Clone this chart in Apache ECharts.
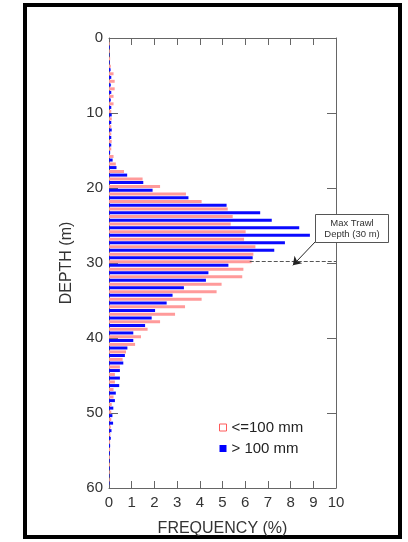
<!DOCTYPE html>
<html>
<head>
<meta charset="utf-8">
<script src="https://cdn.jsdelivr.net/npm/echarts@6/dist/echarts.min.js"></script>
<style>
  html, body { margin: 0; padding: 0; background: #fff; }
  #chart { width: 408px; height: 542px; }
</style>
</head>
<body>
<div id="chart"></div>
<script>
// depth bins (m), one bar pair per metre
const depths = [
  0, 1, 2, 3, 4, 5, 6, 7, 8, 9,
  10, 11, 12, 13, 14, 15, 16, 17, 18, 19,
  20, 21, 22, 23, 24, 25, 26, 27, 28, 29,
  30, 31, 32, 33, 34, 35, 36, 37, 38, 39,
  40, 41, 42, 43, 44, 45, 46, 47, 48, 49,
  50, 51, 52, 53, 54, 55, 56, 57, 58, 59,
  60
]
// frequency (%) of fish <= 100 mm
const smallFish = [
  0, 0.03, 0.03, 0.05, 0.08, 0.2, 0.25, 0.25, 0.2, 0.2,
  0.1, 0.12, 0.1, 0.1, 0.12, 0.1, 0.2, 0.3, 0.66, 1.48,
  2.25, 3.39, 4.08, 5.23, 5.45, 5.36, 6.02, 5.95, 6.45, 6.36,
  6.28, 5.92, 5.87, 4.96, 4.74, 4.08, 3.35, 2.91, 2.25, 1.7,
  1.41, 1.15, 0.75, 0.6, 0.48, 0.26, 0.26, 0.2, 0.2, 0.12,
  0.1, 0.1, 0.08, 0.06, 0.05, 0.05, 0.04, 0.04, 0.03, 0.03,
  0
]
// frequency (%) of fish > 100 mm
const largeFish = [
  0, 0.03, 0.02, 0.03, 0.07, 0.1, 0.08, 0.1, 0.08, 0.1,
  0.12, 0.1, 0.12, 0.1, 0.1, 0.05, 0.16, 0.33, 0.8, 1.51,
  1.92, 3.5, 5.18, 6.66, 7.17, 8.38, 8.85, 7.75, 7.28, 6.33,
  5.26, 4.38, 4.27, 3.3, 2.8, 2.54, 2.03, 1.88, 1.59, 1.07,
  1.07, 0.81, 0.7, 0.63, 0.48, 0.48, 0.45, 0.3, 0.26, 0.19,
  0.15, 0.18, 0.11, 0.08, 0.05, 0.04, 0.03, 0.03, 0.02, 0.02,
  0
]
const seriesNames = ['<=100 mm', '> 100 mm']
const trawlDepth = 30

const font = 'Liberation Sans, Arial, sans-serif'
const plotTop = 38
const plotHeight = 451
const perMetre = plotHeight / 60

const chart = echarts.init(document.getElementById('chart'))

const frameAxis = {
  axisLine: { show: true, onZero: false, lineStyle: { color: '#666', width: 1 } },
  splitLine: { show: false },
  axisTick: { inside: true, lineStyle: { color: '#666' } }
}

const option = {
  animation: false,
  textStyle: { fontFamily: font },
  grid: [
    // visible frame, 0..60 m
    { left: 109, width: 227, top: plotTop, height: plotHeight },
    // bar grid, shifted half a bin so bars sit on whole metres
    { left: 109, width: 227, top: plotTop - perMetre / 2, height: perMetre * 61 }
  ],
  legend: {
    orient: 'vertical',
    left: 214,
    top: 415,
    icon: 'rect',
    itemWidth: 7,
    itemHeight: 7,
    itemGap: 6,
    textStyle: { fontSize: 15, color: '#222' },
    data: [
      { name: seriesNames[0], itemStyle: { color: '#fff', borderColor: '#ff5a5a', borderWidth: 1 } },
      { name: seriesNames[1], itemStyle: { color: '#0000ff' } }
    ]
  },
  xAxis: [
    Object.assign({}, frameAxis, {
      gridIndex: 0,
      type: 'value',
      position: 'bottom',
      min: 0,
      max: 10,
      interval: 1,
      axisTick: { inside: true, length: 7, lineStyle: { color: '#666' } },
      axisLabel: { fontSize: 15, color: '#333', margin: 7 },
      name: 'FREQUENCY (%)',
      nameLocation: 'middle',
      nameGap: 33,
      nameTextStyle: { fontSize: 16, color: '#333' }
    }),
    Object.assign({}, frameAxis, {
      gridIndex: 0,
      type: 'value',
      position: 'top',
      min: 0,
      max: 10,
      interval: 1,
      axisTick: { inside: true, length: 7, lineStyle: { color: '#666' } },
      axisLabel: { show: false }
    }),
    { gridIndex: 1, type: 'value', min: 0, max: 10, show: false }
  ],
  yAxis: [
    Object.assign({}, frameAxis, {
      gridIndex: 0,
      type: 'value',
      position: 'left',
      inverse: true,
      min: 0,
      max: 60,
      interval: 10,
      axisTick: { inside: true, length: 9, lineStyle: { color: '#666' } },
      axisLabel: { fontSize: 15, color: '#333', margin: 6 },
      name: 'DEPTH (m)',
      nameLocation: 'middle',
      nameGap: 34,
      nameRotate: 90,
      nameTextStyle: { fontSize: 16, color: '#333' }
    }),
    Object.assign({}, frameAxis, {
      gridIndex: 0,
      type: 'value',
      position: 'right',
      inverse: true,
      min: 0,
      max: 60,
      interval: 10,
      axisTick: { inside: true, length: 9, lineStyle: { color: '#666' } },
      axisLabel: { show: false }
    }),
    { gridIndex: 1, type: 'category', data: depths, inverse: true, show: false }
  ],
  series: [
    {
      name: seriesNames[0],
      type: 'bar',
      xAxisIndex: 2,
      yAxisIndex: 2,
      barWidth: 3,
      barGap: '20%',
      itemStyle: { color: '#ff9a9a' },
      data: smallFish,
      markLine: {
        silent: true,
        symbol: 'none',
        label: { show: false },
        lineStyle: { color: '#555', type: 'dashed', width: 1 },
        data: [[{ coord: [6.2, String(trawlDepth)] }, { coord: [10, String(trawlDepth)] }]]
      }
    },
    {
      name: seriesNames[1],
      type: 'bar',
      xAxisIndex: 2,
      yAxisIndex: 2,
      barWidth: 3,
      barGap: '20%',
      itemStyle: { color: '#0a0aff' },
      data: largeFish,
      markLine: {
        silent: true,
        symbol: ['none', 'arrow'],
        symbolSize: 8,
        label: { show: false },
        lineStyle: { color: '#222', type: 'solid', width: 1 },
        data: [[{ x: 316, y: 241 }, { coord: [8.1, String(trawlDepth)] }]]
      }
    }
  ],
  graphic: [
    {
      type: 'rect',
      shape: { x: 25, y: 5, width: 375, height: 532 },
      style: { fill: 'none', stroke: '#000', lineWidth: 4 },
      silent: true
    },
    {
      type: 'rect',
      shape: { x: 315.5, y: 214.5, width: 73, height: 28 },
      style: { fill: '#fff', stroke: '#555', lineWidth: 1 },
      z: 10
    },
    {
      type: 'text',
      x: 352,
      y: 229,
      z: 11,
      style: {
        text: 'Max Trawl\nDepth (30 m)',
        align: 'center',
        verticalAlign: 'middle',
        font: '9.5px ' + font,
        fill: '#333',
        lineHeight: 11
      }
    }
  ]
}

chart.setOption(option)
</script>
</body>
</html>
